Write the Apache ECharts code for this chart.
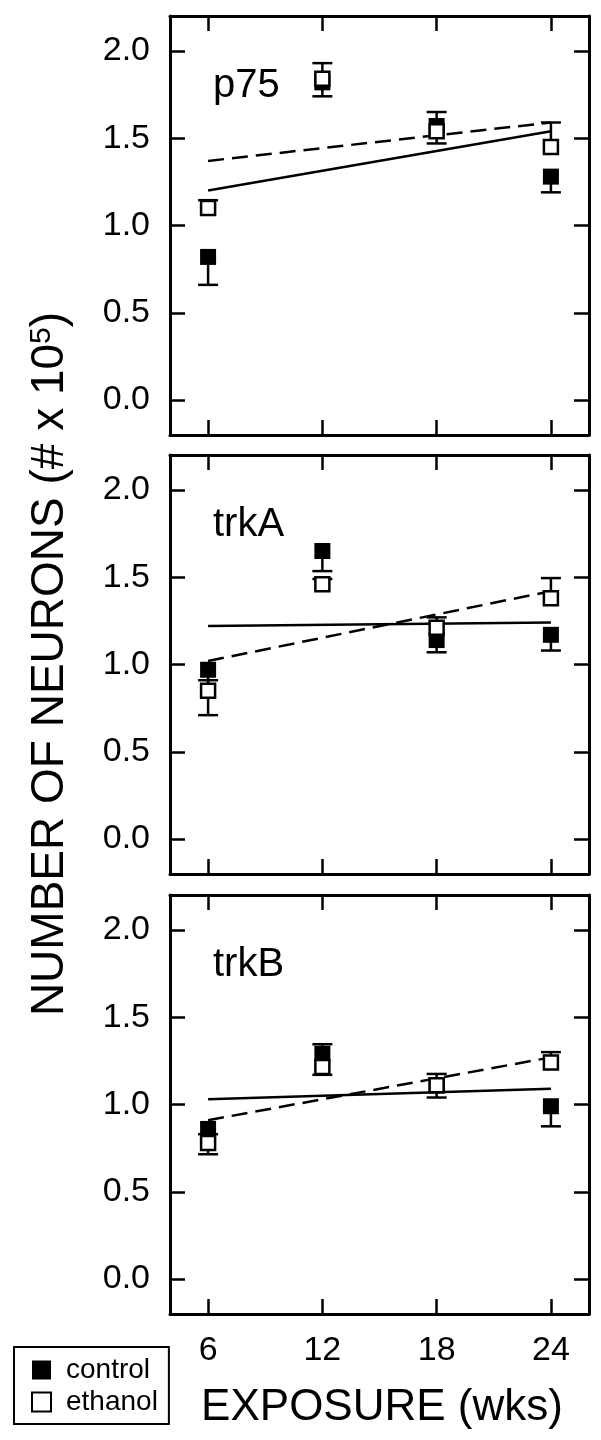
<!DOCTYPE html>
<html>
<head>
<meta charset="utf-8">
<script src="https://cdn.jsdelivr.net/npm/echarts@6/dist/echarts.min.js"></script>
<style>
  html, body { margin: 0; padding: 0; background: #fff; }
  #chart { width: 601px; height: 1440px; }
</style>
</head>
<body>
<div id="chart"></div>
<script>
const weeks = [6, 12, 18, 24]
const yTicks = [0, 0.5, 1.0, 1.5, 2.0]
const panelNames = ['p75', 'trkA', 'trkB']

// p75
const controlP75 = [0.82, 1.82, 1.57, 1.28]
const controlP75Err = [0.16, 0.08, 0.10, 0.09]
const ethanolP75 = [1.10, 1.84, 1.54, 1.45]
const ethanolP75Err = [0.045, 0.09, 0.11, 0.14]
const fitControlP75 = [1.20, 1.54]
const fitEthanolP75 = [1.37, 1.59]

// trkA
const controlTrkA = [0.97, 1.65, 1.14, 1.17]
const controlTrkAErr = [0.26, 0.115, 0.07, 0.09]
const ethanolTrkA = [0.85, 1.46, 1.21, 1.38]
const ethanolTrkAErr = [0.06, 0.03, 0.06, 0.115]
const fitControlTrkA = [1.22, 1.24]
const fitEthanolTrkA = [1.02, 1.42]

// trkB
const controlTrkB = [0.86, 1.29, 1.11, 0.99]
const controlTrkBErr = [0.145, 0.12, 0.07, 0.115]
const ethanolTrkB = [0.78, 1.215, 1.11, 1.24]
const ethanolTrkBErr = [0.05, 0.13, 0.065, 0.06]
const fitControlTrkB = [1.03, 1.09]
const fitEthanolTrkB = [0.91, 1.27]

const panels = [
  { control: controlP75, controlErr: controlP75Err, ethanol: ethanolP75, ethanolErr: ethanolP75Err, fitC: fitControlP75, fitE: fitEthanolP75 },
  { control: controlTrkA, controlErr: controlTrkAErr, ethanol: ethanolTrkA, ethanolErr: ethanolTrkAErr, fitC: fitControlTrkA, fitE: fitEthanolTrkA },
  { control: controlTrkB, controlErr: controlTrkBErr, ethanol: ethanolTrkB, ethanolErr: ethanolTrkBErr, fitC: fitControlTrkB, fitE: fitEthanolTrkB }
]

const FONT = '"Liberation Sans", Arial, sans-serif'
const gridTops = [16, 455, 895]
const GRID_LEFT = 170
const GRID_W = 419
const GRID_H = 419

function errRender(params, api) {
  const x = api.value(0)
  const p = api.coord([x, api.value(1)])
  const q = api.coord([x, api.value(2)])
  const style = { stroke: '#000', lineWidth: 2.5 }
  return {
    type: 'group',
    children: [
      { type: 'line', shape: { x1: p[0], y1: p[1], x2: q[0], y2: q[1] }, style: style },
      { type: 'line', shape: { x1: q[0] - 10, y1: q[1], x2: q[0] + 10, y2: q[1] }, style: style }
    ]
  }
}

const grids = []
const xAxes = []
const yAxes = []
const series = []
const graphics = []

panels.forEach(function (pd, i) {
  grids.push({ left: GRID_LEFT, top: gridTops[i], width: GRID_W, height: GRID_H })

  const axisLine = { show: true, onZero: false, lineStyle: { color: '#000', width: 3 } }
  ;['bottom', 'top'].forEach(function (pos) {
    xAxes.push({
      type: 'value', gridIndex: i, position: pos, min: 4, max: 26,
      axisLine: axisLine,
      axisTick: { show: true, inside: true, length: 15, customValues: weeks, lineStyle: { color: '#000', width: 2.5 } },
      axisLabel: {
        show: pos === 'bottom' && i === 2, customValues: weeks, margin: 20,
        fontSize: 34, fontFamily: FONT, color: '#000'
      },
      splitLine: { show: false }
    })
  })
  ;['left', 'right'].forEach(function (pos) {
    yAxes.push({
      type: 'value', gridIndex: i, position: pos, min: -0.2, max: 2.2,
      axisLine: axisLine,
      axisTick: { show: true, inside: true, length: 15, customValues: yTicks, lineStyle: { color: '#000', width: 2.5 } },
      axisLabel: {
        show: pos === 'left', customValues: yTicks, margin: 20,
        fontSize: 34, fontFamily: FONT, color: '#000',
        formatter: function (v) { return v.toFixed(1) }
      },
      splitLine: { show: false }
    })
  })

  const xi = i * 2
  const yi = i * 2
  series.push({
    name: 'fit control ' + i, type: 'line', xAxisIndex: xi, yAxisIndex: yi, z: 2,
    symbol: 'none', lineStyle: { color: '#000', width: 2.5 },
    data: [[weeks[0], pd.fitC[0]], [weeks[3], pd.fitC[1]]]
  })
  series.push({
    name: 'fit ethanol ' + i, type: 'line', xAxisIndex: xi, yAxisIndex: yi, z: 2,
    symbol: 'none', lineStyle: { color: '#000', width: 2.5, type: [16, 8] },
    data: [[weeks[0], pd.fitE[0]], [weeks[3], pd.fitE[1]]]
  })
  series.push({
    name: 'err control ' + i, type: 'custom', xAxisIndex: xi, yAxisIndex: yi, z: 3,
    renderItem: errRender,
    data: weeks.map(function (w, k) { return [w, pd.control[k], pd.control[k] - pd.controlErr[k]] })
  })
  series.push({
    name: 'control', type: 'scatter', xAxisIndex: xi, yAxisIndex: yi, z: 4,
    symbol: 'rect', symbolSize: 16,
    itemStyle: { color: '#000', opacity: 1 },
    data: weeks.map(function (w, k) { return [w, pd.control[k]] })
  })
  series.push({
    name: 'err ethanol ' + i, type: 'custom', xAxisIndex: xi, yAxisIndex: yi, z: 5,
    renderItem: errRender,
    data: weeks.map(function (w, k) { return [w, pd.ethanol[k], pd.ethanol[k] + pd.ethanolErr[k]] })
  })
  series.push({
    name: 'ethanol', type: 'scatter', xAxisIndex: xi, yAxisIndex: yi, z: 6,
    symbol: 'rect', symbolSize: 14,
    itemStyle: { color: '#fff', borderColor: '#000', borderWidth: 2.5, opacity: 1 },
    data: weeks.map(function (w, k) { return [w, pd.ethanol[k]] })
  })

  graphics.push({
    type: 'text', left: 213, top: gridTops[i] + 50,
    style: { text: panelNames[i], font: '40px ' + FONT, fill: '#000' }
  })
})

graphics.push({
  type: 'text', x: 50, y: 664, rotation: Math.PI / 2,
  style: {
    text: 'NUMBER OF NEURONS (# x 10{sup|5})',
    font: '46px ' + FONT, fill: '#000', align: 'center', verticalAlign: 'middle',
    rich: {
      sup: { font: '30px ' + FONT, fill: '#000', verticalAlign: 'top', padding: [0, 0, 14, 0] }
    }
  }
})
graphics.push({
  type: 'text', x: 382, y: 1408,
  style: {
    text: 'EXPOSURE (wks)', font: '44px ' + FONT, fill: '#000',
    align: 'center', verticalAlign: 'middle'
  }
})

const chart = echarts.init(document.getElementById('chart'))
chart.setOption({
  animation: false,
  backgroundColor: '#fff',
  grid: grids,
  xAxis: xAxes,
  yAxis: yAxes,
  legend: {
    data: ['control', 'ethanol'],
    orient: 'vertical', left: 14, top: 1347,
    padding: [9, 11, 8, 17],
    itemWidth: 19, itemHeight: 19, itemGap: 4,
    borderColor: '#000', borderWidth: 2,
    selectedMode: false,
    textStyle: { fontSize: 28, fontFamily: FONT, color: '#000', padding: [0, 0, 0, 10] }
  },
  graphic: graphics,
  series: series
})
</script>
</body>
</html>
